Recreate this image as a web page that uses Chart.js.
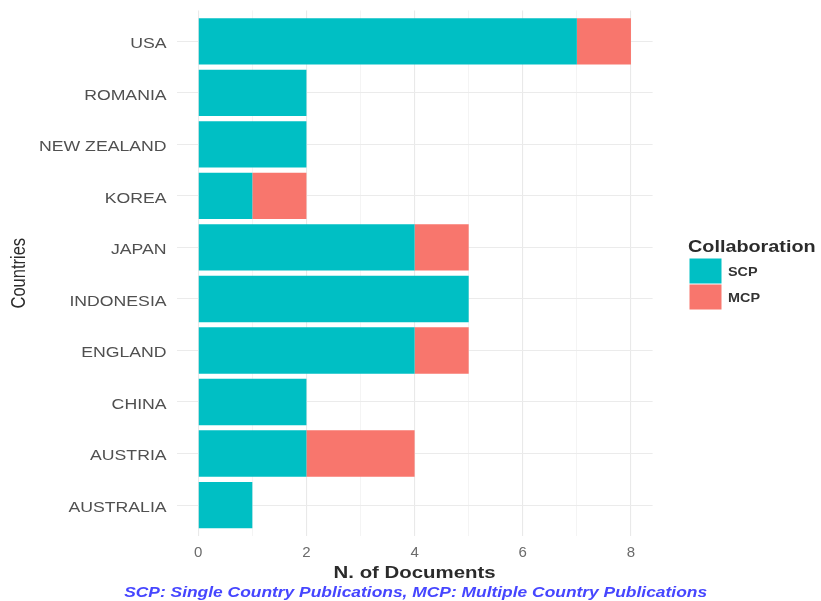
<!DOCTYPE html>
<html>
<head>
<meta charset="utf-8">
<script src="https://cdn.jsdelivr.net/npm/chart.js@4"></script>
<style>
  html, body { margin: 0; padding: 0; background: #ffffff; }
  #wrap { width: 821px; height: 601px; }
</style>
</head>
<body>
<div id="wrap"><canvas id="chart" width="821" height="601"></canvas></div>
<script>
// Countries, listed top to bottom
const countries = ["USA", "ROMANIA", "NEW ZEALAND", "KOREA", "JAPAN", "INDONESIA", "ENGLAND", "CHINA", "AUSTRIA", "AUSTRALIA"];
// Single Country Publications
const scp = [7, 2, 2, 1, 4, 5, 4, 2, 2, 1];
// Multiple Country Publications
const mcp = [1, 0, 0, 1, 1, 0, 1, 0, 2, 0];
// Document-count ticks on the value axis
const xTicks = [0, 1, 2, 3, 4, 5, 6, 7, 8];
const xLabelTicks = [0, 2, 4, 6, 8];

const seriesNames = ["SCP", "MCP"];
const seriesColors = ["#00BFC4", "#F8766D"];

const xTitle = "N. of Documents";
const yTitle = "Countries";
const legendTitle = "Collaboration";
const caption = "SCP: Single Country Publications, MCP: Multiple Country Publications";

// Horizontal widening applied to the category labels
const TEXT_STRETCH = 1.14;

function toPoints(values) {
  return values.map((v, i) => ({ x: v, y: i }));
}

// Stretched text helper for titles and legend
function stretchedText(ctx, text, x, y, font, color, align, sx) {
  ctx.save();
  ctx.font = font;
  ctx.fillStyle = color;
  ctx.textAlign = align;
  ctx.textBaseline = "alphabetic";
  ctx.translate(x, y);
  ctx.scale(sx, 1);
  ctx.fillText(text, 0, 0);
  ctx.restore();
}

// Widen the category labels around their right-aligned anchor
function widenLabels(scale) {
  if (scale._widened) return;
  scale._widened = true;
  const original = scale.drawLabels;
  scale.drawLabels = function (area) {
    const ctx = this.ctx;
    const anchor = this.right - this.options.ticks.padding;
    ctx.save();
    ctx.translate(anchor, 0);
    ctx.scale(TEXT_STRETCH, 1);
    ctx.translate(-anchor, 0);
    original.call(this, area);
    ctx.restore();
  };
}

const decorations = {
  id: "decorations",
  afterDraw(chart) {
    const ctx = chart.ctx;
    const area = chart.chartArea;
    const cx = (area.left + area.right) / 2;

    // x axis title
    stretchedText(ctx, xTitle, cx, 577.5, "bold 17px 'Liberation Sans'", "#2b2b2b", "center", 1.2);

    // caption
    stretchedText(ctx, caption, cx + 1, 596.5, "italic bold 14.5px 'Liberation Sans'", "#4646ff", "center", 1.2);

    // y axis title, rotated
    ctx.save();
    ctx.font = "16.5px 'Liberation Sans'";
    ctx.fillStyle = "#2b2b2b";
    ctx.textAlign = "center";
    ctx.textBaseline = "alphabetic";
    ctx.translate(25, (area.top + area.bottom) / 2);
    ctx.rotate(-Math.PI / 2);
    ctx.scale(1, 1.2);
    ctx.fillText(yTitle, 0, 0);
    ctx.restore();

    // legend
    stretchedText(ctx, legendTitle, 688, 252, "bold 16.5px 'Liberation Sans'", "#2b2b2b", "left", 1.2);
    chart.data.datasets.forEach((ds, i) => {
      const top = 258.5 + i * 26;
      ctx.save();
      ctx.fillStyle = ds.backgroundColor;
      ctx.fillRect(689.5, top, 32, 25);
      ctx.restore();
      stretchedText(ctx, ds.label, 728, top + 17.5, "bold 12px 'Liberation Sans'", "#333333", "left", 1.2);
    });
  }
};

new Chart(document.getElementById("chart"), {
  type: "bar",
  data: {
    datasets: [
      { label: seriesNames[0], data: toPoints(scp), backgroundColor: seriesColors[0], borderWidth: 0,
        categoryPercentage: 1, barPercentage: 0.9 },
      { label: seriesNames[1], data: toPoints(mcp), backgroundColor: seriesColors[1], borderWidth: 0,
        categoryPercentage: 1, barPercentage: 0.9 }
    ]
  },
  options: {
    indexAxis: "y",
    responsive: false,
    animation: false,
    devicePixelRatio: 1,
    layout: { padding: { left: 0, right: 168.4, top: 10.4, bottom: 0 } },
    plugins: {
      legend: { display: false },
      tooltip: { enabled: false },
      title: { display: false }
    },
    scales: {
      x: {
        type: "linear",
        stacked: true,
        min: -0.4,
        max: 8.4,
        afterBuildTicks: (scale) => { scale.ticks = xTicks.map(v => ({ value: v })); },
        afterFit: (scale) => {
          scale.height = 65;
          scale.paddingLeft = 0;
          scale.paddingRight = 0;
        },
        grid: {
          drawTicks: false,
          color: (c) => (c.tick && xLabelTicks.includes(c.tick.value)) ? "#e9e9e9" : "#f1f1f1",
          lineWidth: (c) => (c.tick && xLabelTicks.includes(c.tick.value)) ? 1.1 : 0.8
        },
        border: { display: false },
        ticks: {
          autoSkip: false,
          maxRotation: 0,
          padding: 8,
          color: "#6b6b6b",
          font: { family: "'Liberation Sans'", size: 15 },
          callback: (v) => xLabelTicks.includes(v) ? String(v) : ""
        }
      },
      y: {
        type: "linear",
        stacked: true,
        reverse: true,
        offset: false,
        min: -0.6,
        max: countries.length - 0.4,
        afterBuildTicks: (scale) => { scale.ticks = countries.map((_, i) => ({ value: i })); },
        afterFit: (scale) => {
          scale.width = 176.6;
          scale.paddingTop = 0;
          scale.paddingBottom = 0;
          widenLabels(scale);
        },
        grid: { drawTicks: false, offset: false, color: "#ebebeb", lineWidth: 1.1 },
        border: { display: false },
        ticks: {
          autoSkip: false,
          padding: 10,
          labelOffset: 2.5,
          color: "#505050",
          font: { family: "'Liberation Sans'", size: 15.5 },
          callback: (v) => countries[v] !== undefined ? countries[v] : ""
        }
      }
    }
  },
  plugins: [decorations]
});
</script>
</body>
</html>
